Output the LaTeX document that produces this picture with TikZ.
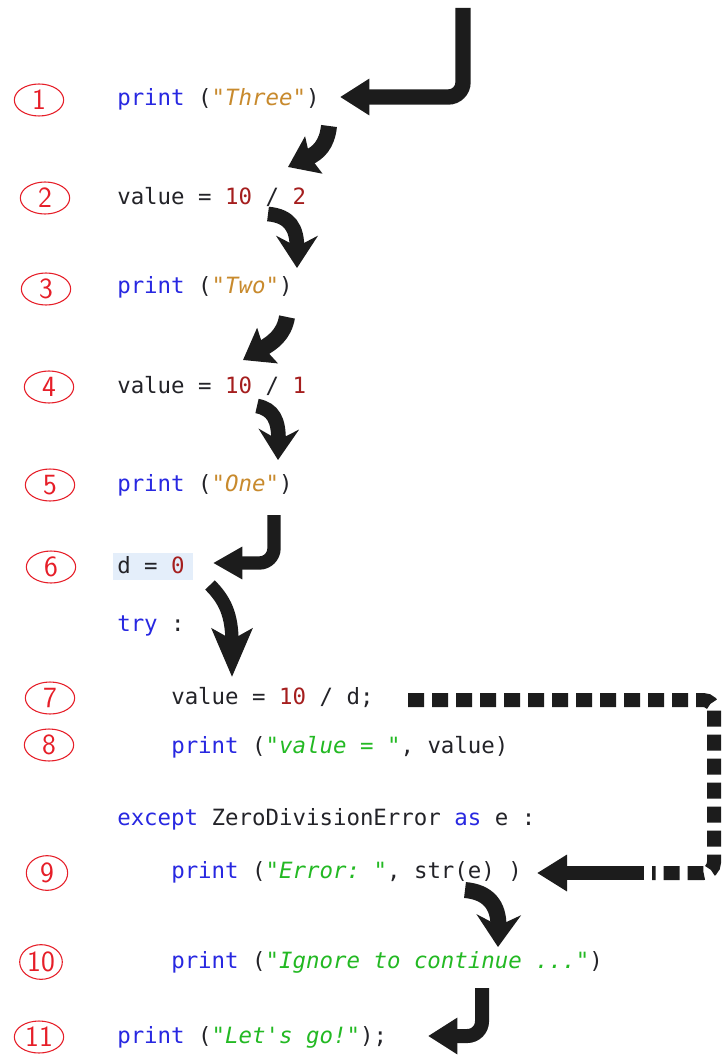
\documentclass[tikz,border=0pt]{standalone}
\usepackage{fontspec}
\setmonofont{DejaVu Sans Mono}
\usetikzlibrary{arrows.meta,shapes.geometric}

\definecolor{kwblue}{RGB}{40,40,225}
\definecolor{strorange}{RGB}{200,138,45}
\definecolor{strgreen}{RGB}{35,185,35}
\definecolor{numred}{RGB}{165,30,30}
\definecolor{codetxt}{RGB}{35,35,40}
\definecolor{markred}{RGB}{230,30,40}
\definecolor{hlblue}{RGB}{228,238,250}
\definecolor{inkblack}{RGB}{28,28,28}

% syntax colouring helpers
\newcommand\ckw[1]{\textcolor{kwblue}{#1}}
\newcommand\cso[1]{\textcolor{strorange}{\itshape #1}}
\newcommand\csg[1]{\textcolor{strgreen}{\itshape #1}}
\newcommand\cnum[1]{\textcolor{numred}{#1}}

\tikzset{
  code/.style={anchor=base west, inner sep=0pt, text=codetxt,
    font=\ttfamily\fontsize{16.8pt}{20pt}\selectfont},
  numring/.style={ellipse, draw=markred, line width=0.8pt, inner sep=0pt,
    minimum width=37pt, minimum height=24pt, text=markred,
    font=\sffamily\fontsize{22pt}{22pt}\selectfont},
  hookarrow/.style={draw=inkblack, line width=11pt, rounded corners=11pt,
    -{Triangle[length=22pt,width=26pt]}},
  curvearrow/.style={draw=inkblack, line width=11pt},
  dashlink/.style={draw=inkblack, line width=10.5pt, rounded corners=8pt,
    dash pattern=on 12pt off 6pt}
}

\begin{document}
\begin{tikzpicture}[x=0.75pt,y=-0.75pt]
\fill[white] (0,0) rectangle (721,1055);
\useasboundingbox (0,0) rectangle (721,1055);

% selection highlight behind the assignment d = 0
\fill[hlblue] (113,553) rectangle (193,580);

% program listing
\node[code] (c1)  at (117,106)  {\ckw{print} (\cso{"Three"})};
\node[code] (c2)  at (117,205)  {value = \cnum{10} / \cnum{2}};
\node[code] (c3)  at (117,294)  {\ckw{print} (\cso{"Two"})};
\node[code] (c4)  at (117,393)  {value = \cnum{10} / \cnum{1}};
\node[code] (c5)  at (117,491)  {\ckw{print} (\cso{"One"})};
\node[code] (c6)  at (117,573)  {d = \cnum{0}};
\node[code] (ctry) at (117,631) {\ckw{try} :};
\node[code] (c7)  at (171,704)  {value = \cnum{10} / d;};
\node[code] (c8)  at (171,753)  {\ckw{print} (\csg{"value = "}, value)};
\node[code] (cex) at (117,825)  {\ckw{except} ZeroDivisionError \ckw{as} e :};
\node[code] (c9)  at (171,878)  {\ckw{print} (\csg{"Error: "}, str(e) )};
\node[code] (c10) at (171,968)  {\ckw{print} (\csg{"Ignore to continue ..."})};
\node[code] (c11) at (117,1043) {\ckw{print} (\csg{"Let's go!"});};

% step numbers
\node[numring] (n1)  at (39,100)  {1};
\node[numring] (n2)  at (45,198)  {2};
\node[numring] (n3)  at (46,289)  {3};
\node[numring] (n4)  at (49,387)  {4};
\node[numring] (n5)  at (50,485)  {5};
\node[numring] (n6)  at (51,567)  {6};
\node[numring] (n7)  at (50,698)  {7};
\node[numring] (n8)  at (49,745)  {8};
\node[numring, minimum width=31pt, minimum height=26pt] (n9)  at (47,873)  {9};
\node[numring, minimum width=32pt, minimum height=26pt] (n10) at (41,962)  {10};
\node[numring] (n11) at (39,1037) {11};

% arrow anchor points
\coordinate (s0)  at (463,8);
\coordinate (e1)  at (340,97);
\coordinate (s12) at (329,126);
\coordinate (e12) at (288,167);
\coordinate (s23) at (268,214);
\coordinate (e23) at (297,268);
\coordinate (s34) at (287,317);
\coordinate (e34) at (243,360);
\coordinate (s45) at (257,406);
\coordinate (e45) at (278,460);
\coordinate (s56) at (274,515);
\coordinate (e56) at (213,563);
\coordinate (s67) at (210,585);
\coordinate (e67) at (232,677);
\coordinate (s79) at (408,700);
\coordinate (k1)  at (714,700);
\coordinate (k2)  at (714,873);
\coordinate (k3)  at (652,873);
\coordinate (k4)  at (644,873);
\coordinate (e79) at (537,873);
\coordinate (s910) at (465,890);
\coordinate (e910) at (498,947);
\coordinate (s1011) at (482,988);
\coordinate (e1011) at (428,1036);

% control flow
\draw[hookarrow, line width=11.5pt] (s0) |- (e1);
\draw[curvearrow, line width=12pt, -{Stealth[length=21pt,width=30pt,inset=3pt]}]
  (s12) .. controls (327,145) and (318,153) .. (e12);
\draw[curvearrow, line width=11pt, -{Stealth[length=24pt,width=31pt,inset=8pt]}]
  (s23) .. controls (290,216) and (297,228) .. (e23);
\draw[curvearrow, line width=12pt, -{Stealth[length=21pt,width=30pt,inset=3pt]}]
  (s34) .. controls (284,335) and (272,343) .. (e34);
\draw[curvearrow, line width=11pt, -{Stealth[length=23pt,width=30pt,inset=8pt]}]
  (s45) .. controls (273,409) and (279,420) .. (e45);
\draw[hookarrow, line width=10pt, -{Triangle[length=22pt,width=23pt]}] (s56) |- (e56);
\draw[curvearrow, line width=10pt, -{Stealth[length=36pt,width=30pt,inset=8pt]}]
  (s67) .. controls (225,600) and (232,615) .. (e67);
\draw[dashlink] (s79) -- (k1) -- (k2) -- (k3);
\draw[draw=inkblack, line width=10pt, -{Triangle[length=22.5pt,width=26pt]}] (k4) -- (e79);
\draw[curvearrow, line width=12pt, -{Stealth[length=24pt,width=33pt,inset=8pt]}]
  (s910) .. controls (488,892) and (499,905) .. (e910);
\draw[hookarrow, line width=10.5pt] (s1011) |- (e1011);
\end{tikzpicture}
\end{document}
